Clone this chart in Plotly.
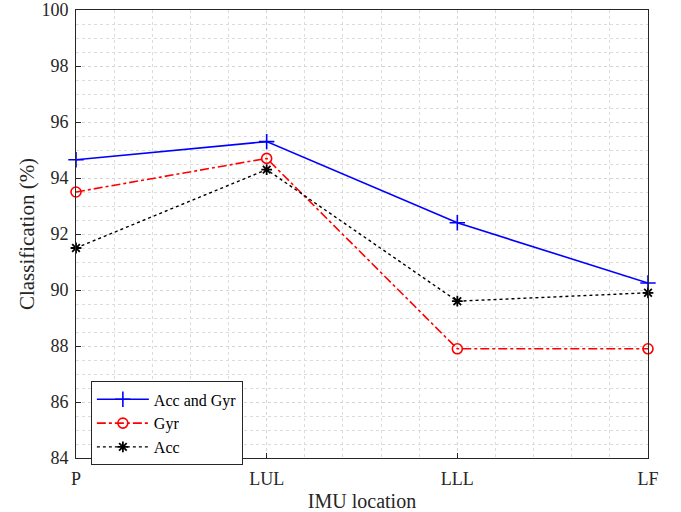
import plotly.graph_objects as go

categories = ["P", "LUL", "LLL", "LF"]
acc_gyr = [94.65, 95.3, 92.4, 90.25]
gyr = [93.5, 94.7, 87.9, 87.9]
acc = [91.5, 94.3, 89.6, 89.9]
y_ticks = [84, 86, 88, 90, 92, 94, 96, 98, 100]

xpos = list(range(len(categories)))
FONT = "Liberation Serif"

fig = go.Figure()
fig.add_trace(go.Scatter(
    x=xpos, y=acc_gyr, name="Acc and Gyr", mode="lines+markers",
    line=dict(color="#0000ff", width=1.6),
    marker=dict(symbol="cross-thin-open", size=11, line=dict(color="#0000ff", width=1.6)),
    cliponaxis=False))
fig.add_trace(go.Scatter(
    x=xpos, y=gyr, name="Gyr", mode="lines+markers",
    line=dict(color="#ff0000", width=1.6, dash="dashdot"),
    marker=dict(symbol="circle-open", size=10, color="#ff0000", line=dict(color="#ff0000", width=1.6)),
    cliponaxis=False))
fig.add_trace(go.Scatter(
    x=xpos, y=acc, name="Acc", mode="lines+markers",
    line=dict(color="#000000", width=1.4, dash="dot"),
    marker=dict(symbol="asterisk-open", size=9, line=dict(color="#000000", width=1.8)),
    cliponaxis=False))

axis_common = dict(
    showline=True, linecolor="#262626", linewidth=1, mirror=True,
    ticks="inside", ticklen=5, tickcolor="#262626",
    showgrid=True, gridcolor="#d4d4d4", griddash="dot", gridwidth=1,
    zeroline=False, automargin=False, ticklabeloverflow="allow",
    tickfont=dict(family=FONT, size=18, color="#262626"),
)

fig.update_xaxes(
    **axis_common,
    range=[0, 3], tickvals=xpos, ticktext=categories,
    ticklabelstandoff=4,
    minor=dict(dtick=0.2, tick0=0, showgrid=True, gridcolor="#dcdcdc", griddash="dot", ticks=""),
    title=dict(text="IMU location", font=dict(family=FONT, size=20, color="#262626"), standoff=6),
)
fig.update_yaxes(
    **axis_common,
    range=[84, 100], tickvals=y_ticks,
    ticklabelstandoff=3,
    minor=dict(dtick=0.5, tick0=84, showgrid=True, gridcolor="#dcdcdc", griddash="dot", ticks=""),
    title=dict(text="Classification (%)", font=dict(family=FONT, size=21, color="#262626"), standoff=1),
)

fig.update_layout(
    width=681, height=512,
    margin=dict(l=76, r=33, t=10, b=54),
    plot_bgcolor="white", paper_bgcolor="white",
    font=dict(family=FONT, color="#262626"),
    legend=dict(
        x=0.026, y=0.171, xanchor="left", yanchor="top",
        bgcolor="white", bordercolor="#262626", borderwidth=1,
        font=dict(family=FONT, size=16, color="#000000"),
        tracegroupgap=0, itemwidth=52,
    ),
    showlegend=True,
)

fig.write_html("out.html", config={"displayModeBar": False},
               post_script="document.body.style.margin='0';")
